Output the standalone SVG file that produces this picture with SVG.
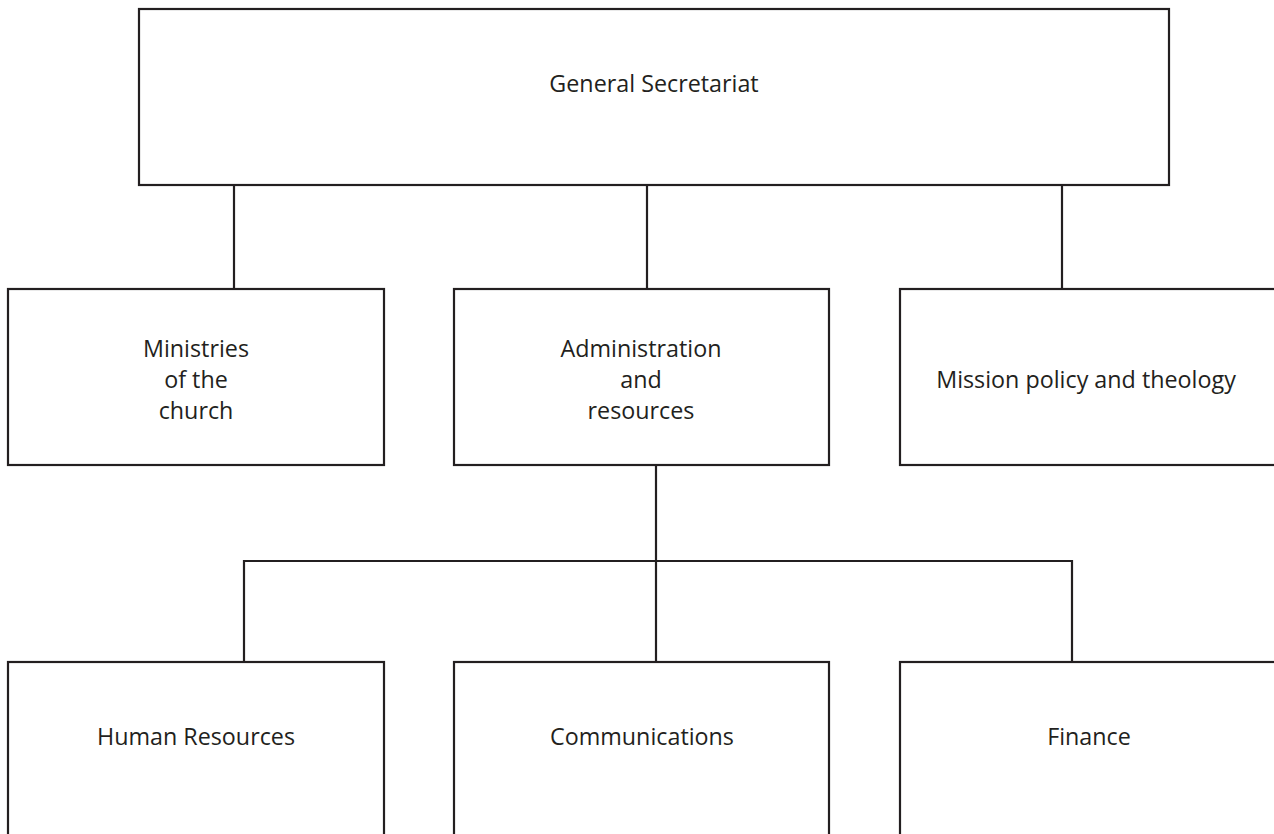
<svg xmlns="http://www.w3.org/2000/svg" width="1274" height="834" viewBox="0 0 1274 834">
<style>
.box{fill:#fff;stroke:#231f20;stroke-width:2.2}
.conn{stroke:#231f20;stroke-width:2.2;fill:none}
text{font-family:"Open Sans","Noto Sans",sans-serif;font-size:23.3px;fill:#231f20;text-anchor:middle}
</style>
<rect width="1274" height="834" fill="#fff"/>
<g id="connectors">
<line class="conn" x1="234" y1="185" x2="234" y2="289"/>
<line class="conn" x1="647" y1="185" x2="647" y2="289"/>
<line class="conn" x1="1062" y1="185" x2="1062" y2="289"/>
<line class="conn" x1="656" y1="465" x2="656" y2="662"/>
<polyline class="conn" points="244,662 244,561 1072,561 1072,662"/>
</g>
<g id="general-secretariat">
<rect class="box" x="139" y="9" width="1030" height="176"/>
<text x="654" y="92">General Secretariat</text>
</g>
<g id="ministries">
<rect class="box" x="8" y="289" width="376" height="176"/>
<text x="196" y="357">Ministries</text>
<text x="196" y="388">of the</text>
<text x="196" y="419">church</text>
</g>
<g id="administration">
<rect class="box" x="454" y="289" width="375" height="176"/>
<text x="641" y="357">Administration</text>
<text x="641" y="388">and</text>
<text x="641" y="419">resources</text>
</g>
<g id="mission">
<rect class="box" x="900" y="289" width="400" height="176"/>
<text x="1086" y="388">Mission policy and theology</text>
</g>
<g id="human-resources">
<rect class="box" x="8" y="662" width="376" height="200"/>
<text x="196" y="745">Human Resources</text>
</g>
<g id="communications">
<rect class="box" x="454" y="662" width="375" height="200"/>
<text x="642" y="745">Communications</text>
</g>
<g id="finance">
<rect class="box" x="900" y="662" width="400" height="200"/>
<text x="1089" y="745">Finance</text>
</g>
</svg>
